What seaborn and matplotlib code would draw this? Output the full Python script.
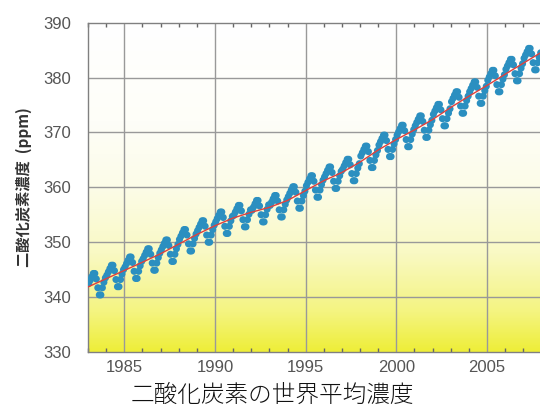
import numpy as np
import pandas as pd
import matplotlib
matplotlib.use("Agg")
import matplotlib.pyplot as plt
from matplotlib.colors import LinearSegmentedColormap
from matplotlib.ticker import MultipleLocator
import seaborn as sns

# monthly global mean CO2 (ppm), one row per year, Jan..Dec
years = list(range(1983, 2008))
monthly_co2 = [
    [342.5, 343.1, 343.7, 344.3, 344.3, 343.3, 341.7, 340.4, 340.4, 341.7, 342.7, 343.5],
    [344.0, 344.6, 345.2, 345.8, 345.8, 344.8, 343.2, 341.9, 341.9, 343.2, 344.2, 345.0],
    [345.5, 346.1, 346.7, 347.3, 347.3, 346.3, 344.7, 343.4, 343.4, 344.7, 345.7, 346.5],
    [347.0, 347.6, 348.2, 348.8, 348.8, 347.8, 346.2, 344.9, 344.9, 346.2, 347.2, 348.0],
    [348.6, 349.2, 349.8, 350.4, 350.4, 349.4, 347.8, 346.5, 346.5, 347.8, 348.8, 349.6],
    [350.5, 351.1, 351.7, 352.3, 352.3, 351.3, 349.7, 348.4, 348.4, 349.7, 350.7, 351.5],
    [352.1, 352.7, 353.3, 353.9, 353.9, 352.9, 351.3, 350.0, 350.0, 351.3, 352.3, 353.1],
    [353.7, 354.3, 354.9, 355.5, 355.5, 354.5, 352.9, 351.6, 351.6, 352.9, 353.9, 354.7],
    [354.9, 355.5, 356.1, 356.7, 356.7, 355.7, 354.1, 352.8, 352.8, 354.1, 355.1, 355.9],
    [355.8, 356.4, 357.0, 357.6, 357.6, 356.6, 355.0, 353.7, 353.7, 355.0, 356.0, 356.8],
    [356.7, 357.3, 357.9, 358.5, 358.5, 357.5, 355.9, 354.6, 354.6, 355.9, 356.9, 357.7],
    [358.3, 358.9, 359.5, 360.1, 360.1, 359.1, 357.5, 356.2, 356.2, 357.5, 358.5, 359.3],
    [360.3, 360.9, 361.5, 362.1, 362.1, 361.1, 359.5, 358.2, 358.2, 359.5, 360.5, 361.3],
    [361.9, 362.5, 363.1, 363.7, 363.7, 362.7, 361.1, 359.8, 359.8, 361.1, 362.1, 362.9],
    [363.3, 363.9, 364.5, 365.1, 365.1, 364.1, 362.5, 361.2, 361.2, 362.5, 363.5, 364.3],
    [365.7, 366.3, 366.9, 367.5, 367.5, 366.5, 364.9, 363.6, 363.6, 364.9, 365.9, 366.7],
    [367.7, 368.3, 368.9, 369.5, 369.5, 368.5, 366.9, 365.6, 365.6, 366.9, 367.9, 368.7],
    [369.5, 370.1, 370.7, 371.3, 371.3, 370.3, 368.7, 367.4, 367.4, 368.7, 369.7, 370.5],
    [371.2, 371.8, 372.4, 373.0, 373.0, 372.0, 370.4, 369.1, 369.1, 370.4, 371.4, 372.2],
    [373.3, 373.9, 374.5, 375.1, 375.1, 374.1, 372.5, 371.2, 371.2, 372.5, 373.5, 374.3],
    [375.6, 376.2, 376.8, 377.4, 377.4, 376.4, 374.8, 373.5, 373.5, 374.8, 375.8, 376.6],
    [377.4, 378.0, 378.6, 379.2, 379.2, 378.2, 376.6, 375.3, 375.3, 376.6, 377.6, 378.4],
    [379.5, 380.1, 380.7, 381.3, 381.3, 380.3, 378.7, 377.4, 377.4, 378.7, 379.7, 380.5],
    [381.5, 382.1, 382.7, 383.3, 383.3, 382.3, 380.7, 379.4, 379.4, 380.7, 381.7, 382.5],
    [383.5, 384.1, 384.7, 385.3, 385.3, 384.3, 382.7, 381.4, 381.4, 382.7, 383.7, 384.5],
]

# deseasonalised trend at the start of each year (red line)
trend_years = list(range(1983, 2009))
trend_co2 = [341.85, 343.35, 344.85, 346.35, 347.9, 349.65, 351.4, 353.0, 354.4,
             355.45, 356.35, 357.6, 359.4, 361.2, 362.7, 364.6, 366.8, 368.7,
             370.45, 372.35, 374.55, 376.6, 378.55, 380.6, 382.6, 384.6]

x_ticks = [1985, 1990, 1995, 2000, 2005]
y_ticks = [330, 340, 350, 360, 370, 380, 390]

rows = []
for yr, vals in zip(years, monthly_co2):
    for m, v in enumerate(vals):
        rows.append({"t": yr + (m + 0.5) / 12, "co2": v})
df = pd.DataFrame(rows)
trend_df = pd.DataFrame({"t": trend_years, "co2": trend_co2})

sns.set_theme(style="white")
plt.rcParams['font.family'] = ['Liberation Sans', 'DejaVu Sans']

fig = plt.figure(figsize=(5.4, 4.08), dpi=100)
ax = fig.add_axes([88 / 540, 56 / 408, 1 - 88 / 540, (352.7 - 23.3) / 408])

xlim = (1983, 2007.92)
ylim = (330, 390)

# background: white at top fading to yellow at bottom
bg = LinearSegmentedColormap.from_list(
    "bg", [(0.0, "#eeee38"), (0.12, "#f4f480"), (0.3, "#f9f9c4"),
           (0.5, "#fcfce8"), (0.7, "#fefef8"), (1.0, "#ffffff")])
grad = np.linspace(0, 1, 256).reshape(-1, 1)
ax.imshow(grad, cmap=bg, aspect="auto", origin="lower",
          extent=[xlim[0], xlim[1], ylim[0], ylim[1]], zorder=0)

for xt in x_ticks:
    ax.axvline(xt, color="#999999", lw=1.0, zorder=1)
for yt in y_ticks[1:-1]:
    ax.axhline(yt, color="#999999", lw=1.0, zorder=1)

sns.scatterplot(data=df, x="t", y="co2", ax=ax, s=26, color="#2b8fc0",
                edgecolor="none", linewidth=0, zorder=3)
sns.lineplot(data=trend_df, x="t", y="co2", ax=ax, color="#e0403c", lw=1.0, zorder=4)

ax.set_xlim(*xlim)
ax.set_ylim(*ylim)
ax.set_xticks(x_ticks)
ax.set_yticks(y_ticks)
ax.xaxis.set_minor_locator(MultipleLocator(1))
ax.tick_params(axis="x", which="both", direction="in", top=True, bottom=True,
               length=3, color="#666666", labelsize=12, labelcolor="#555555", pad=6)
ax.tick_params(axis="x", which="major", length=0)
ax.tick_params(axis="y", which="both", length=0, labelsize=12, labelcolor="#555555", pad=12)
ax.set_xlabel("")
ax.set_ylabel("二酸化炭素濃度  (ppm)", fontsize=11, fontweight="bold", color="#333333",
              family=['Noto Sans CJK JP', 'DejaVu Sans'], labelpad=8)

for side in ["left", "top", "bottom"]:
    ax.spines[side].set_color("#808080")
    ax.spines[side].set_linewidth(1.0)
ax.spines["right"].set_visible(False)

fig.text(0.505, 1 - 395 / 408, "二酸化炭素の世界平均濃度", ha="center", va="center",
         fontsize=17, fontweight="light", color="#111111",
         family=['Noto Sans CJK JP', 'DejaVu Sans'])

fig.savefig("out.png", dpi=100)
